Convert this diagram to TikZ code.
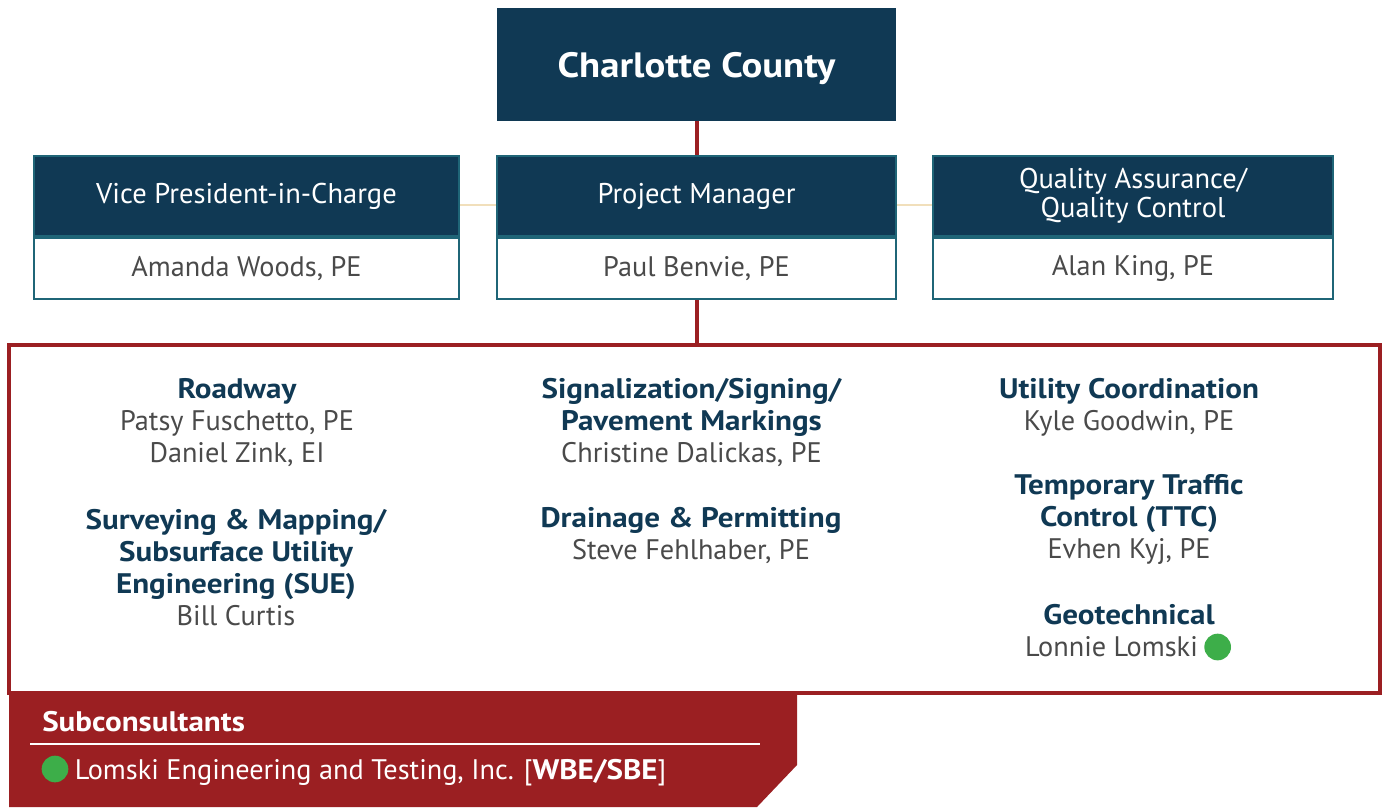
\documentclass[tikz,border=0pt]{standalone}
\usepackage{fontspec}
\setmainfont{PT Sans}[BoldFeatures={FakeStretch=1.1}]
\usetikzlibrary{positioning}
\definecolor{navy}{HTML}{103954}
\definecolor{crimson}{HTML}{9B1F22}
\definecolor{tealline}{HTML}{1F6577}
\definecolor{tan}{HTML}{F1DFBB}
\definecolor{greytext}{HTML}{4A4A4A}
\definecolor{dotgreen}{HTML}{3DAE49}
\newcommand\discipline[1]{\textbf{\textcolor{navy}{#1}}}

\begin{document}
\begin{tikzpicture}[x=0.75pt,y=-0.75pt,
  top/.style={fill=navy,text=white,font=\fontsize{26.4}{30}\selectfont\bfseries,
    minimum width=299.25pt,minimum height=84.75pt,inner sep=0pt,text depth=0pt},
  head/.style={fill=navy,draw=tealline,line width=1.5pt,text=white,align=center,
    font=\fontsize{21.4}{21.75}\selectfont,minimum height=60pt,inner sep=0pt},
  person/.style={fill=white,draw=tealline,line width=1.5pt,text=greytext,
    font=\fontsize{21.2}{24}\selectfont,minimum height=45.75pt,inner sep=0pt},
  frame/.style={draw=crimson,line width=2.6pt,minimum width=1028.25pt,minimum height=261pt},
  group/.style={align=center,inner sep=0pt,font=\fontsize{21.2}{24}\selectfont,text=greytext},
  link/.style={crimson,line width=3pt},
  side/.style={tan,line width=2.2pt},
  dot/.style={circle,fill=dotgreen,minimum size=20pt,inner sep=0pt}]
\useasboundingbox (0,0) rectangle (1384,807);

% top of the chart
\node[top] (county) at (696.5,64.5) {Charlotte County};

\node[head,minimum width=318.75pt] (vp) at (246.5,196) {Vice President-in-Charge};
\node[person,minimum width=318.75pt,below=0pt of vp] (vpname) {Amanda Woods, PE};

\node[head,minimum width=299.25pt] (pm) at (696.5,196) {Project Manager};
\node[person,minimum width=299.25pt,below=0pt of pm] (pmname) {Paul Benvie, PE};

\node[head,minimum width=300pt] (qa) at (1133,196) {Quality Assurance/\\Quality Control};
\node[person,minimum width=300pt,below=0pt of qa] (qaname) {Alan King, PE};

\draw[side] (vp.east |- 0,205) -- (pm.west |- 0,205);
\draw[side] (pm.east |- 0,205) -- (qa.west |- 0,205);

% discipline leads
\node[frame] (team) at (694.5,519) {};
\draw[link] (county.south) -- (pm.north);
\draw[link] (pmname.south) -- (pmname.south |- team.north);

\node[group] (road) at (237,423) {\discipline{Roadway}\\Patsy Fuschetto, PE\\Daniel Zink, EI};
\node[group] (survey) at (236,567.5) {\discipline{Surveying \& Mapping/}\\\discipline{Subsurface Utility}\\\discipline{Engineering (SUE)}\\Bill Curtis};
\node[group] (signal) at (691.5,423) {\discipline{Signalization/Signing/}\\\discipline{Pavement Markings}\\Christine Dalickas, PE};
\node[group] (drain) at (691,536) {\discipline{Drainage \& Permitting}\\Steve Fehlhaber, PE};
\node[group] (utility) at (1129,407) {\discipline{Utility Coordination}\\Kyle Goodwin, PE};
\node[group] (ttc) at (1129,519.5) {\discipline{Temporary Traffic}\\\discipline{Control (TTC)}\\Evhen Kyj, PE};
\node[group] (geo) at (1129,615) {\discipline{Geotechnical}};
\node[group] (lonnie) at (1111.5,647) {Lonnie Lomski};
\node[dot,right=4.5pt of lonnie] (lonniedot) {};

% subconsultants
\fill[crimson] (9,693) -- (797,693) -- (797,765) -- (757,807) -- (9,807) -- cycle;
\node[anchor=west,text=white,font=\fontsize{21.2}{24}\selectfont\bfseries,inner sep=0pt] (subs) at (42,722) {Subconsultants};
\draw[white,line width=1.8pt] (30,744) -- (760,744);
\node[dot] (subdot) at (55,769) {};
\node[anchor=west,text=white,font=\fontsize{21.2}{24}\selectfont,inner sep=0pt,right=4.5pt of subdot,yshift=-2.5pt] (lomski) {Lomski Engineering and Testing, Inc. [\textbf{WBE/SBE}]};
\end{tikzpicture}
\end{document}
